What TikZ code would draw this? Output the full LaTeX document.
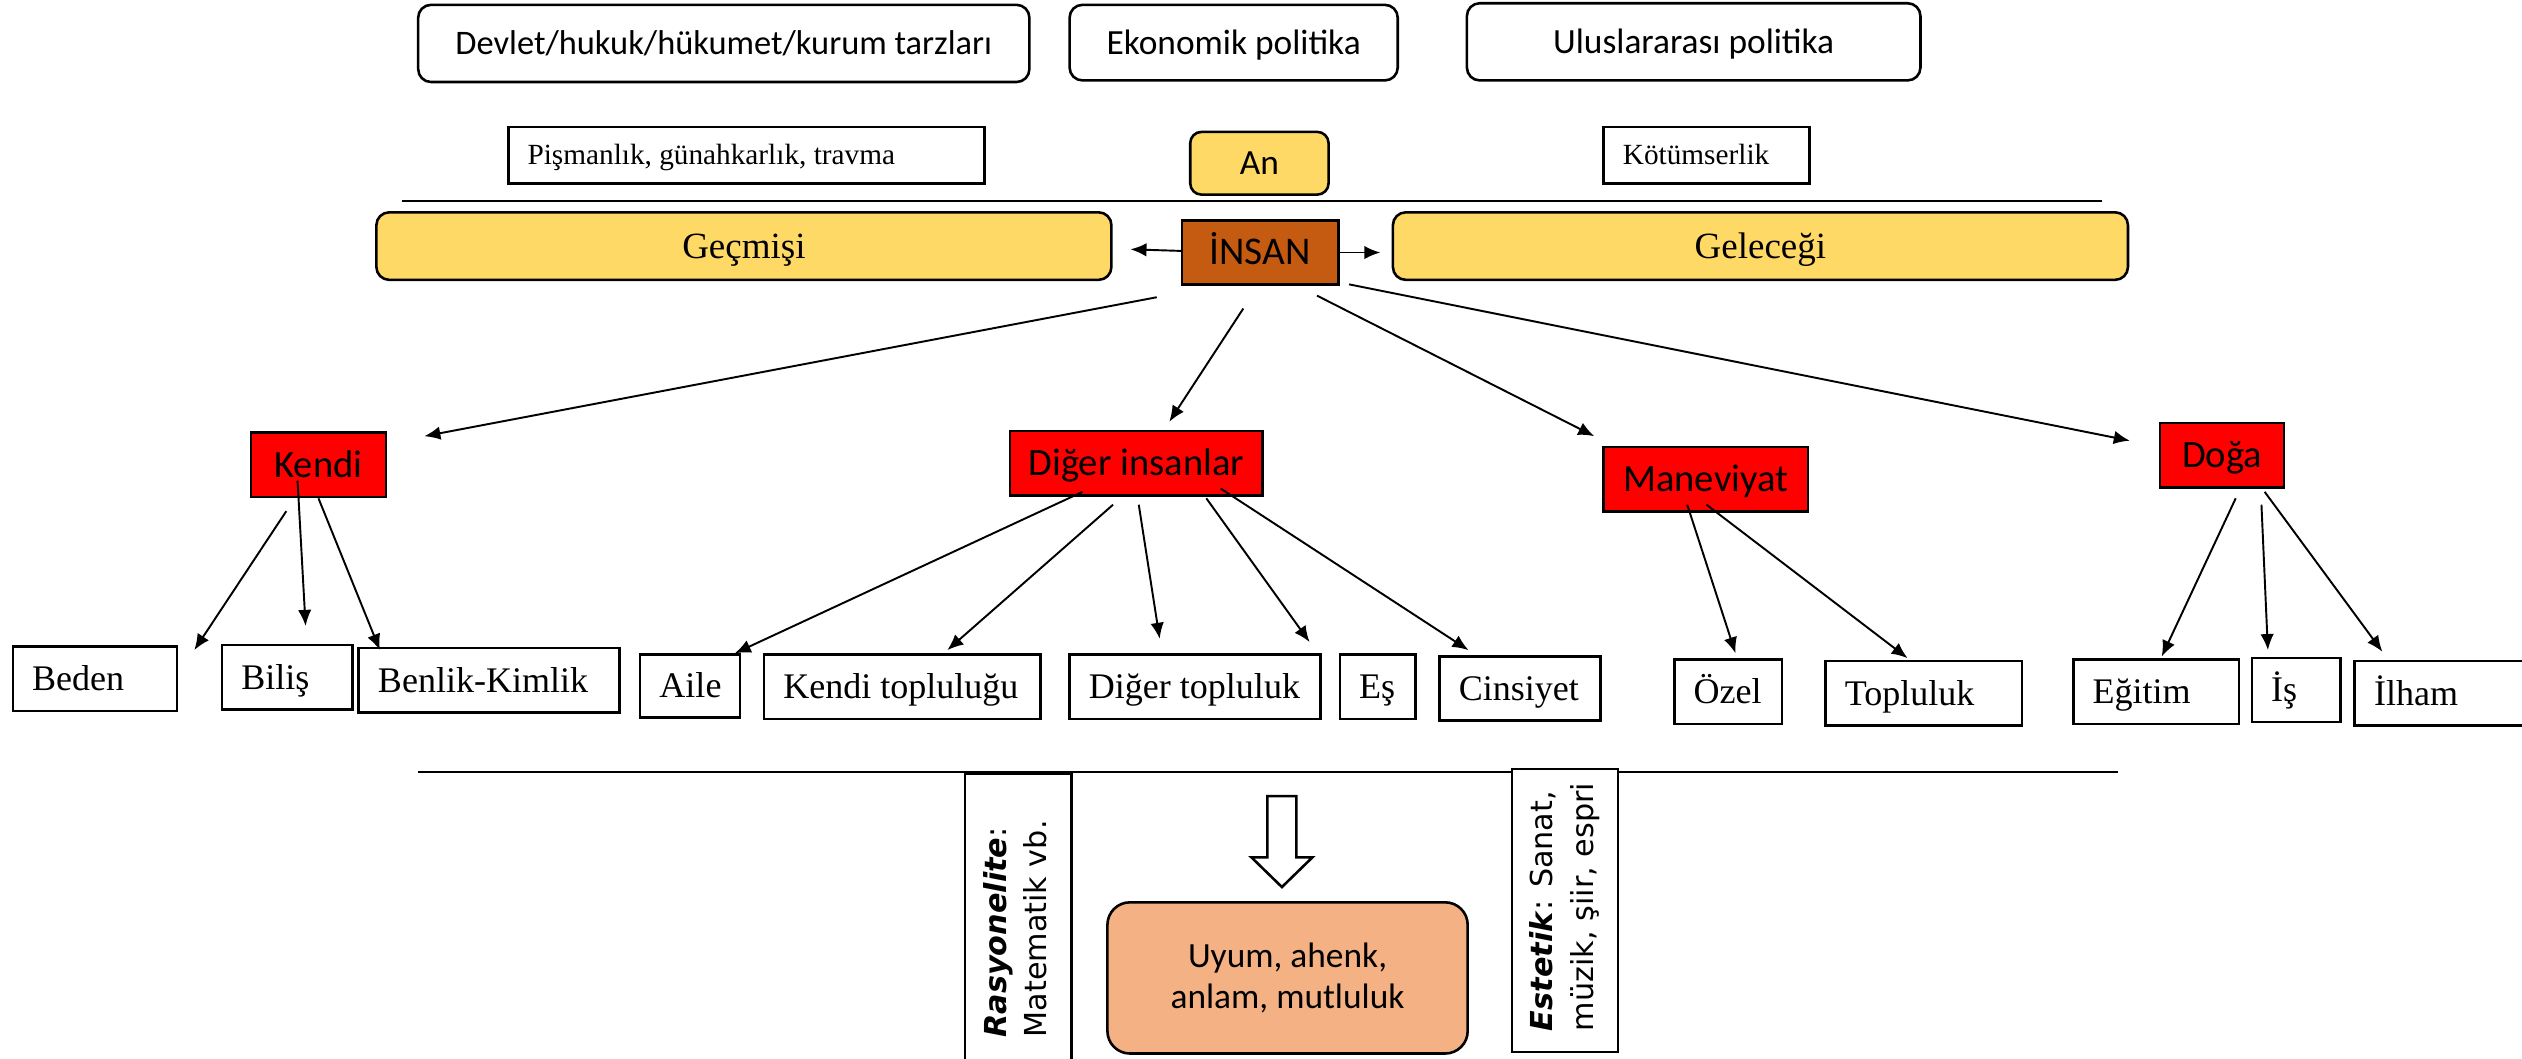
\documentclass[tikz,border=0pt]{standalone}
\usepackage{fontspec}
\setmainfont{Liberation Serif}
\newfontfamily\calfnt{Carlito}
\newfontfamily\dvfnt{DejaVu Sans}
\usetikzlibrary{calc,arrows.meta}
\definecolor{yel}{HTML}{FFD966}
\definecolor{insanc}{HTML}{C55A11}
\definecolor{uyumc}{HTML}{F4B183}
\definecolor{redc}{HTML}{FF0000}
\newcommand\lt[2]{\makebox[#1][l]{\hspace{6pt}#2}}
\tikzset{
  topbox/.style={draw, line width=0.8pt, rounded corners=4pt, fill=white, inner sep=0pt,
    font=\calfnt\fontsize{11}{13}\selectfont, text height=7.1pt, text depth=0pt},
  notebox/.style={draw, line width=0.8pt, inner sep=0pt, fill=white,
    font=\fontsize{9.1}{11}\selectfont, text height=6pt, text depth=0pt},
  yelbox/.style={draw, line width=0.8pt, rounded corners=4pt, fill=yel, inner sep=0pt,
    font=\fontsize{11.5}{13}\selectfont, text height=7.6pt, text depth=0pt},
  redbox/.style={draw, line width=0.8pt, fill=redc, inner sep=0pt,
    font=\calfnt\fontsize{12}{14}\selectfont, text height=7.7pt, text depth=0pt},
  leaf/.style={draw, line width=0.8pt, inner sep=0pt, minimum height=20pt,
    font=\fontsize{11.2}{13}\selectfont, text height=7.4pt, text depth=0pt},
  rotbox/.style={draw, line width=0.8pt, inner sep=0pt, rotate=90, fill=white,
    font=\dvfnt\fontsize{9.4}{12.5}\selectfont},
  conn/.style={-{Latex[length=5pt,width=4.2pt]}, line width=0.6pt},
  rule/.style={line width=0.8pt}
}
\begin{document}
\begin{tikzpicture}[x=0.5pt,y=-0.5pt]
\useasboundingbox (0,0) rectangle (1568,658);
% top row
\node[topbox, font=\calfnt\fontsize{10.7}{13}\selectfont, minimum width=190pt, minimum height=24pt] (devlet) at (450,27) {Devlet/hukuk/hükumet/kurum tarzları};
\node[topbox, minimum width=102pt, minimum height=23.5pt] (ekon) at (767,26.5) {Ekonomik politika};
\node[topbox, minimum width=141pt, minimum height=24pt] (ulus) at (1053,26) {Uluslararası politika};
% second row
\node[notebox, minimum height=17.5pt] (pisman) at (464,96.5) {\lt{148pt}{Pişmanlık, günahkarlık, travma}};
\node[notebox, minimum height=17.5pt] (kotum) at (1061,96.5) {\lt{64pt}{Kötümserlik}};
\node[topbox, fill=yel, rounded corners=3.5pt, minimum width=43pt, minimum height=19.5pt] (an) at (783,101.5) {An};
\draw[rule] (250,125) -- (1307,125);
% time row
\node[yelbox, minimum width=228.5pt, minimum height=21pt] (gecmis) at (462.5,153) {Geçmişi};
\node[yelbox, minimum width=228.5pt, minimum height=21pt] (gelecek) at (1094.5,153) {Geleceği};
\node[draw, line width=0.8pt, fill=insanc, inner sep=0pt, minimum width=48.5pt, minimum height=20pt,
  font=\calfnt\fontsize{12.2}{14}\selectfont, text height=7.4pt, text depth=0pt] (insan) at (783.5,157) {İNSAN};
% red boxes
\node[redbox, minimum width=42pt, minimum height=20pt] (kendi) at (198,289) {Kendi};
\node[redbox, minimum width=78.5pt, minimum height=20pt] (diger) at (706.5,288) {Diğer insanlar};
\node[redbox, minimum width=63.5pt, minimum height=20pt] (manev) at (1060.5,298) {Maneviyat};
\node[redbox, minimum width=38.5pt, minimum height=20pt] (doga) at (1381.5,283) {Doğa};
% leaves
\node[leaf] (beden) at (59,422) {\lt{51pt}{Beden}};
\node[leaf] (bilis) at (178.5,421) {\lt{40.5pt}{Biliş}};
\node[leaf] (benlik) at (304,423) {\lt{81pt}{Benlik-Kimlik}};
\node[leaf, minimum height=19.5pt] (aile) at (429,426.5) {\lt{31pt}{Aile}};
\node[leaf] (kendit) at (561,427) {\lt{86pt}{Kendi topluluğu}};
\node[leaf] (digert) at (743,427) {\lt{78pt}{Diğer topluluk}};
\node[leaf] (es) at (856.5,427) {\lt{23.5pt}{Eş}};
\node[leaf] (cinsiyet) at (945,428) {\lt{50pt}{Cinsiyet}};
\node[leaf] (ozel) at (1074.5,430) {\lt{33.5pt}{Özel}};
\node[leaf] (topluluk) at (1196,431) {\lt{61pt}{Topluluk}};
\node[leaf] (egitim) at (1340.5,430) {\lt{51.5pt}{Eğitim}};
\node[leaf] (is) at (1427.5,429) {\lt{27.5pt}{İş}};
\node[leaf] (ilham) at (1522,431) {\lt{58pt}{İlham}};
% bottom
\draw[rule] (260,480) -- (1317,480);
\node[rotbox, minimum height=33pt] (rasyon) at (633,575.5)
  {\makebox[94.5pt][l]{\hspace{12.5pt}\begin{tabular}{@{}l@{}}\textbf{\textit{Rasyonelite}}:\\Matematik vb.\end{tabular}}};
\node[rotbox, minimum height=33pt] (estetik) at (973,566)
  {\makebox[88pt][l]{\hspace{6.5pt}\begin{tabular}{@{}l@{}}\textbf{\textit{Estetik}}: Sanat,\\müzik, şiir, espri\end{tabular}}};
\draw[line width=0.8pt, fill=white] (788,495) -- (806,495) -- (806,533) -- (816,533) -- (797,551.5) -- (778,533) -- (788,533) -- cycle;
\node[draw, line width=0.8pt, fill=uyumc, rounded corners=7pt, inner sep=0pt, minimum width=112pt, minimum height=47pt,
  align=center, font=\calfnt\fontsize{11}{12.5}\selectfont] (uyum) at (800.5,608) {Uyum, ahenk,\\anlam, mutluluk};
% connectors
\draw[conn] ($(insan.west)+(0,-1)$) -- ($(gecmis.east)+(11,2)$);
\draw[conn] (insan.east) -- ($(gelecek.west)+(-7,4)$);
\draw[conn] ($(insan.south west)+(-15,7)$) -- ($(kendi.north east)+(23,3)$);
\draw[conn] ($(insan.south)+(-10.5,14)$) -- ($(diger.north)+(20.5,-5)$);
\draw[conn] ($(insan.south east)+(-14,6)$) -- ($(manev.north west)+(-5,-6)$);
\draw[conn] ($(insan.south east)+(6,-1)$) -- ($(doga.west)+(-18,-9)$);
\draw[conn] ($(kendi.south)+(-20,8)$) -- ($(beden.north east)+(10,3)$);
\draw[conn] ($(kendi.south)+(-13,-11)$) -- ($(bilis.north)+(11.5,-11)$);
\draw[conn] (kendi.south) -- ($(benlik.north west)+(14,2)$);
\draw[conn] ($(diger.south)+(-33.5,-3)$) -- ($(aile.north east)+(-4,0)$);
\draw[conn] ($(diger.south)+(-14.5,5)$) -- ($(kendit.north)+(28,-2)$);
\draw[conn] ($(diger.south)+(1.5,5)$) -- ($(digert.north)+(-22,-9)$);
\draw[conn] ($(diger.south)+(43.5,1)$) -- ($(es.north west)+(-18,-7)$);
\draw[conn] ($(diger.south)+(52.5,-5)$) -- ($(cinsiyet.north)+(-32,-3)$);
\draw[conn] ($(manev.south)+(-11.5,-5)$) -- ($(ozel.north)+(4.5,-3)$);
\draw[conn] ($(manev.south)+(0.5,-5)$) -- ($(topluluk.north)+(-10,-1)$);
\draw[conn] ($(doga.south)+(8.5,6)$) -- ($(egitim.north)+(3.5,-1)$);
\draw[conn] ($(doga.south)+(24.5,10)$) -- ($(is.north)+(-17.5,-4)$);
\draw[conn] ($(doga.south)+(26.5,2)$) -- ($(ilham.north west)+(18,-5)$);
\end{tikzpicture}
\end{document}
